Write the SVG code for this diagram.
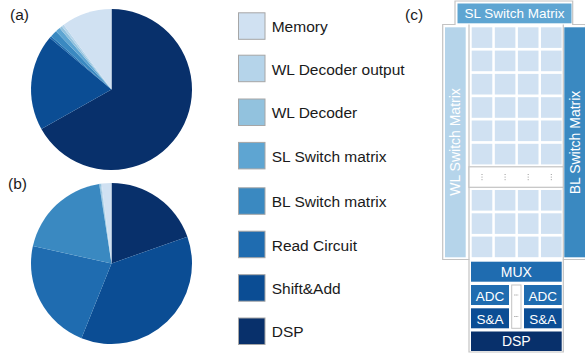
<svg xmlns="http://www.w3.org/2000/svg" width="585" height="353" viewBox="0 0 585 353">
<style>
.lbl{font-family:"Liberation Sans",Arial,sans-serif;font-size:15.5px;fill:#1a1a1a}
.w{font-family:"Liberation Sans",Arial,sans-serif;fill:#ffffff;text-anchor:middle}
.sw{stroke:#a6a6a6;stroke-width:1}
.c-mem{fill:#d0e1f2}.c-wlo{fill:#b5d4ea}.c-wld{fill:#92c2de}.c-sl{fill:#5ea5d2}
.c-bl{fill:#3a89c1}.c-rd{fill:#1f6cb0}.c-sa{fill:#0b4d94}.c-dsp{fill:#08306b}
.cell{fill:#d0e1f2}
.ol{fill:none;stroke:#c3c3c3;stroke-width:1.2}
.dots{stroke:#9a9a9a;stroke-width:1;stroke-dasharray:1 1.6}
</style>
<g id="pie-a">
<path class="c-dsp" d="M111.5,89.5 L111.5,9 A80.5,80.5 0 1 1 41.37,129.02 Z"/>
<path class="c-sa" d="M111.5,89.5 L41.37,129.02 A80.5,80.5 0 0 1 49.74,37.87 Z"/>
<path class="c-rd" d="M111.5,89.5 L49.74,37.87 A80.5,80.5 0 0 1 51.12,36.27 Z"/>
<path class="c-bl" d="M111.5,89.5 L51.12,36.27 A80.5,80.5 0 0 1 55.99,31.2 Z"/>
<path class="c-sl" d="M111.5,89.5 L55.99,31.2 A80.5,80.5 0 0 1 59.65,27.93 Z"/>
<path class="c-wld" d="M111.5,89.5 L59.65,27.93 A80.5,80.5 0 0 1 61.83,26.15 Z"/>
<path class="c-wlo" d="M111.5,89.5 L61.83,26.15 A80.5,80.5 0 0 1 63.73,24.71 Z"/>
<path class="c-mem" d="M111.5,89.5 L63.73,24.71 A80.5,80.5 0 0 1 111.5,9 Z"/>
<text class="lbl" x="10" y="20">(a)</text>
</g>
<g id="pie-b">
<path class="c-dsp" d="M111.5,263.5 L111.5,183 A80.5,80.5 0 0 1 187.38,236.63 Z"/>
<path class="c-sa" d="M111.5,263.5 L187.38,236.63 A80.5,80.5 0 0 1 81.47,338.19 Z"/>
<path class="c-rd" d="M111.5,263.5 L81.47,338.19 A80.5,80.5 0 0 1 32.91,246.08 Z"/>
<path class="c-bl" d="M111.5,263.5 L32.91,246.08 A80.5,80.5 0 0 1 99.18,183.95 Z"/>
<path class="c-sl" d="M111.5,263.5 L99.18,183.95 A80.5,80.5 0 0 1 99.74,183.86 Z"/>
<path class="c-wld" d="M111.5,263.5 L99.74,183.86 A80.5,80.5 0 0 1 100.85,183.71 Z"/>
<path class="c-wlo" d="M111.5,263.5 L100.85,183.71 A80.5,80.5 0 0 1 101.69,183.6 Z"/>
<path class="c-mem" d="M111.5,263.5 L101.69,183.6 A80.5,80.5 0 0 1 111.5,183 Z"/>
<text class="lbl" x="8" y="189">(b)</text>
</g>
<g id="legend">
<rect class="c-mem sw" x="238.5" y="12.8" width="26.5" height="26.5"/>
<text class="lbl" x="271.7" y="32">Memory</text>
<rect class="c-wlo sw" x="238.5" y="55.2" width="26.5" height="26.5"/>
<text class="lbl" x="271.7" y="74.5">WL Decoder output</text>
<rect class="c-wld sw" x="238.5" y="99" width="26.5" height="26.5"/>
<text class="lbl" x="271.7" y="118.3">WL Decoder</text>
<rect class="c-sl sw" x="238.5" y="142.4" width="26.5" height="26.5"/>
<text class="lbl" x="271.7" y="161.7">SL Switch matrix</text>
<rect class="c-bl sw" x="238.5" y="187.8" width="26.5" height="26.5"/>
<text class="lbl" x="271.7" y="207">BL Switch matrix</text>
<rect class="c-rd sw" x="238.5" y="231.2" width="26.5" height="26.5"/>
<text class="lbl" x="271.7" y="250.5">Read Circuit</text>
<rect class="c-sa sw" x="238.5" y="274.7" width="26.5" height="26.5"/>
<text class="lbl" x="271.7" y="294">Shift&amp;Add</text>
<rect class="c-dsp sw" x="238.5" y="318" width="26.5" height="26.5"/>
<text class="lbl" x="271.7" y="337.3">DSP</text>
</g>
<g id="panel-c">
<text class="lbl" x="405" y="20">(c)</text>
<path class="ol" d="M455,1 H572.7 V24.5 H585.5 V259.5 H563.3 V352 H469 V259.5 H442.7 V24.5 H455 Z"/>
<line class="ol" x1="469" y1="24.5" x2="469" y2="259.5"/>
<line class="ol" x1="563.3" y1="24.5" x2="563.3" y2="259.5"/>
<g id="sl-switch">
<rect class="c-sl" x="457.5" y="3.5" width="114" height="19.8"/>
<text class="w" x="514.5" y="18.3" font-size="13.5">SL Switch Matrix</text>
</g>
<g id="wl-switch">
<rect class="c-wlo" x="445" y="27.3" width="20.7" height="230"/>
<text class="w" font-size="14" transform="translate(455.3,142) rotate(-90)" x="0" y="5">WL Switch Matrix</text>
</g>
<g id="bl-switch">
<rect class="c-bl" x="564.3" y="27.3" width="21" height="230"/>
<text class="w" font-size="14" transform="translate(575,142.5) rotate(-90)" x="0" y="5">BL Switch Matrix</text>
</g>
<g id="array">
<g id="row1">
<rect class="cell" x="471.7" y="27.3" width="20.6" height="20.6"/><rect class="cell" x="494.8" y="27.3" width="20.6" height="20.6"/><rect class="cell" x="517.9" y="27.3" width="20.6" height="20.6"/><rect class="cell" x="541" y="27.3" width="20.6" height="20.6"/>
</g>
<g id="row2">
<rect class="cell" x="471.7" y="50.6" width="20.6" height="20.6"/><rect class="cell" x="494.8" y="50.6" width="20.6" height="20.6"/><rect class="cell" x="517.9" y="50.6" width="20.6" height="20.6"/><rect class="cell" x="541" y="50.6" width="20.6" height="20.6"/>
</g>
<g id="row3">
<rect class="cell" x="471.7" y="73.9" width="20.6" height="20.6"/><rect class="cell" x="494.8" y="73.9" width="20.6" height="20.6"/><rect class="cell" x="517.9" y="73.9" width="20.6" height="20.6"/><rect class="cell" x="541" y="73.9" width="20.6" height="20.6"/>
</g>
<g id="row4">
<rect class="cell" x="471.7" y="97.2" width="20.6" height="20.6"/><rect class="cell" x="494.8" y="97.2" width="20.6" height="20.6"/><rect class="cell" x="517.9" y="97.2" width="20.6" height="20.6"/><rect class="cell" x="541" y="97.2" width="20.6" height="20.6"/>
</g>
<g id="row5">
<rect class="cell" x="471.7" y="120.5" width="20.6" height="20.6"/><rect class="cell" x="494.8" y="120.5" width="20.6" height="20.6"/><rect class="cell" x="517.9" y="120.5" width="20.6" height="20.6"/><rect class="cell" x="541" y="120.5" width="20.6" height="20.6"/>
</g>
<g id="row6">
<rect class="cell" x="471.7" y="143.8" width="20.6" height="20.6"/><rect class="cell" x="494.8" y="143.8" width="20.6" height="20.6"/><rect class="cell" x="517.9" y="143.8" width="20.6" height="20.6"/><rect class="cell" x="541" y="143.8" width="20.6" height="20.6"/>
</g>
<g id="dots-row">
<rect x="469" y="166.8" width="94.3" height="20.5" fill="#ffffff" stroke="#c3c3c3" stroke-width="1.2"/>
<line class="dots" x1="482" y1="174" x2="482" y2="181"/>
<line class="dots" x1="505.1" y1="174" x2="505.1" y2="181"/>
<line class="dots" x1="528.2" y1="174" x2="528.2" y2="181"/>
<line class="dots" x1="551.3" y1="174" x2="551.3" y2="181"/>
</g>
<g id="row7">
<rect class="cell" x="471.7" y="190" width="20.6" height="20.6"/><rect class="cell" x="494.8" y="190" width="20.6" height="20.6"/><rect class="cell" x="517.9" y="190" width="20.6" height="20.6"/><rect class="cell" x="541" y="190" width="20.6" height="20.6"/>
</g>
<g id="row8">
<rect class="cell" x="471.7" y="213.3" width="20.6" height="20.6"/><rect class="cell" x="494.8" y="213.3" width="20.6" height="20.6"/><rect class="cell" x="517.9" y="213.3" width="20.6" height="20.6"/><rect class="cell" x="541" y="213.3" width="20.6" height="20.6"/>
</g>
<g id="row9">
<rect class="cell" x="471.7" y="236.6" width="20.6" height="20.6"/><rect class="cell" x="494.8" y="236.6" width="20.6" height="20.6"/><rect class="cell" x="517.9" y="236.6" width="20.6" height="20.6"/><rect class="cell" x="541" y="236.6" width="20.6" height="20.6"/>
</g>
</g>
<g id="mux">
<rect class="c-rd" x="471" y="261.7" width="90.7" height="20"/>
<text class="w" x="516.3" y="277" font-size="14">MUX</text>
</g>
<g id="adc-left">
<rect class="c-rd" x="471" y="285" width="38" height="20"/>
<text class="w" x="490" y="301" font-size="13.5">ADC</text>
</g>
<g id="sa-left">
<rect class="c-sa" x="471" y="308.3" width="38" height="20"/>
<text class="w" x="490" y="323.5" font-size="13.5">S&amp;A</text>
</g>
<g id="mid-gap">
<rect x="511.7" y="285" width="9.3" height="43.3" fill="#ffffff" stroke="#c3c3c3" stroke-width="1"/>
<line x1="514.3" y1="295" x2="518.5" y2="295" stroke="#9a9a9a" stroke-width="1" stroke-dasharray="1.2 0.8"/>
<line x1="514.3" y1="316.5" x2="518.5" y2="316.5" stroke="#9a9a9a" stroke-width="1" stroke-dasharray="1.2 0.8"/>
</g>
<g id="adc-right">
<rect class="c-rd" x="524" y="285" width="37.7" height="20"/>
<text class="w" x="542.8" y="301" font-size="13.5">ADC</text>
</g>
<g id="sa-right">
<rect class="c-sa" x="524" y="308.3" width="37.7" height="20"/>
<text class="w" x="542.8" y="323.5" font-size="13.5">S&amp;A</text>
</g>
<g id="dsp-box">
<rect class="c-dsp" x="471" y="331.5" width="90.7" height="19.5"/>
<text class="w" x="516.3" y="346" font-size="14">DSP</text>
</g>
</g>
</svg>
